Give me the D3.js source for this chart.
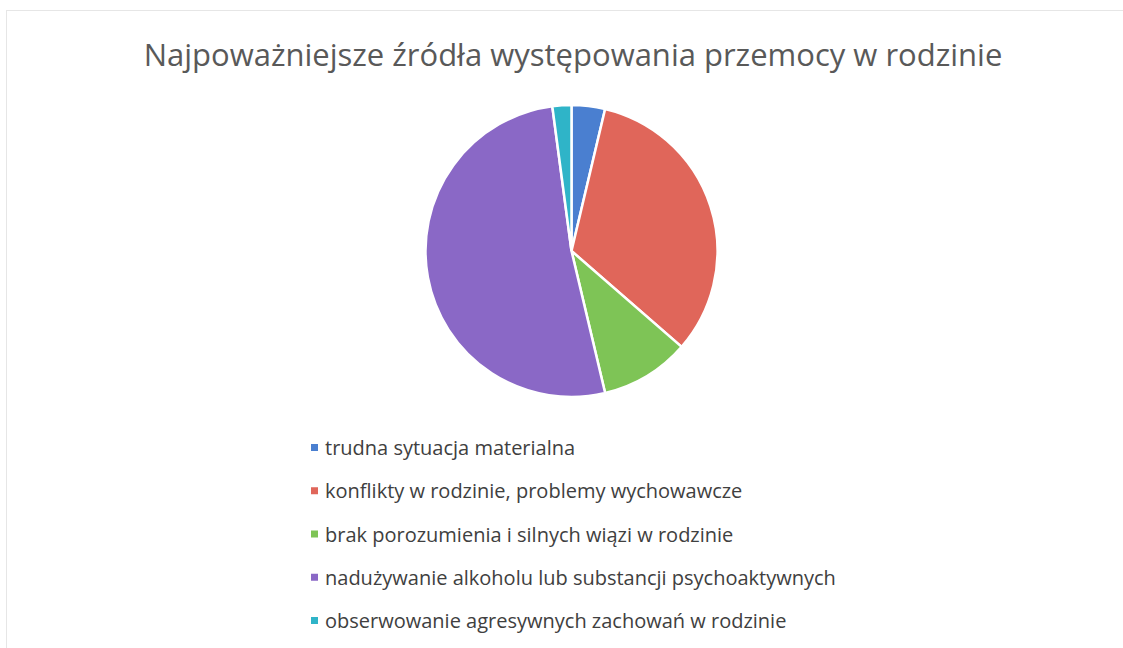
<!DOCTYPE html>
<html>
<head>
<meta charset="utf-8">
<script src="https://cdn.jsdelivr.net/npm/d3@7"></script>
<style>
  body { margin: 0; background: #fff; }
  text { font-family: "Open Sans", sans-serif; }
</style>
</head>
<body>
<div id="chart"></div>
<script>
// categories and their shares (percent)
var categories = [
  "trudna sytuacja materialna",
  "konflikty w rodzinie, problemy wychowawcze",
  "brak porozumienia i silnych wiązi w rodzinie",
  "nadużywanie alkoholu lub substancji psychoaktywnych",
  "obserwowanie agresywnych zachowań w rodzinie"
];
var values = [3.7, 32.7, 9.9, 51.6, 2.1];
var colors = ["#4a7fd0", "#e0665a", "#7ec456", "#8a68c6", "#2fb4c8"];
var title = "Najpoważniejsze źródła występowania przemocy w rodzinie";

var width = 1123, height = 648;
var cx = 571.5, cy = 251, radius = 146;

var svg = d3.select("#chart").append("svg")
  .attr("width", width)
  .attr("height", height);

// faint frame of the chart area
svg.append("rect")
  .attr("x", 6.5).attr("y", 10.5)
  .attr("width", width - 6).attr("height", height)
  .attr("fill", "none")
  .attr("stroke", "#e6e6e6");

svg.append("text")
  .attr("x", 573).attr("y", 66)
  .attr("text-anchor", "middle")
  .attr("font-size", 31)
  .attr("fill", "#595959")
  .text(title);

var data = categories.map(function(c, i) { return { name: c, value: values[i], color: colors[i] }; });

var pie = d3.pie().sort(null).value(function(d) { return d.value; });
var arc = d3.arc().innerRadius(0).outerRadius(radius);

svg.append("g")
  .attr("transform", "translate(" + cx + "," + cy + ")")
  .selectAll("path")
  .data(pie(data))
  .enter().append("path")
  .attr("d", arc)
  .attr("fill", function(d) { return d.data.color; })
  .attr("stroke", "#fff")
  .attr("stroke-width", 2.5);

// legend, one row per category
var legendY = d3.scalePoint().domain(categories).range([448, 621]);

var item = svg.append("g").selectAll("g")
  .data(data)
  .enter().append("g")
  .attr("transform", function(d) { return "translate(311," + legendY(d.name) + ")"; });

item.append("rect")
  .attr("x", 0).attr("y", -4)
  .attr("width", 7).attr("height", 7)
  .attr("fill", function(d) { return d.color; });

item.append("text")
  .attr("x", 14).attr("y", 7)
  .attr("font-size", 20)
  .attr("fill", "#404040")
  .text(function(d) { return d.name; });
</script>
</body>
</html>
